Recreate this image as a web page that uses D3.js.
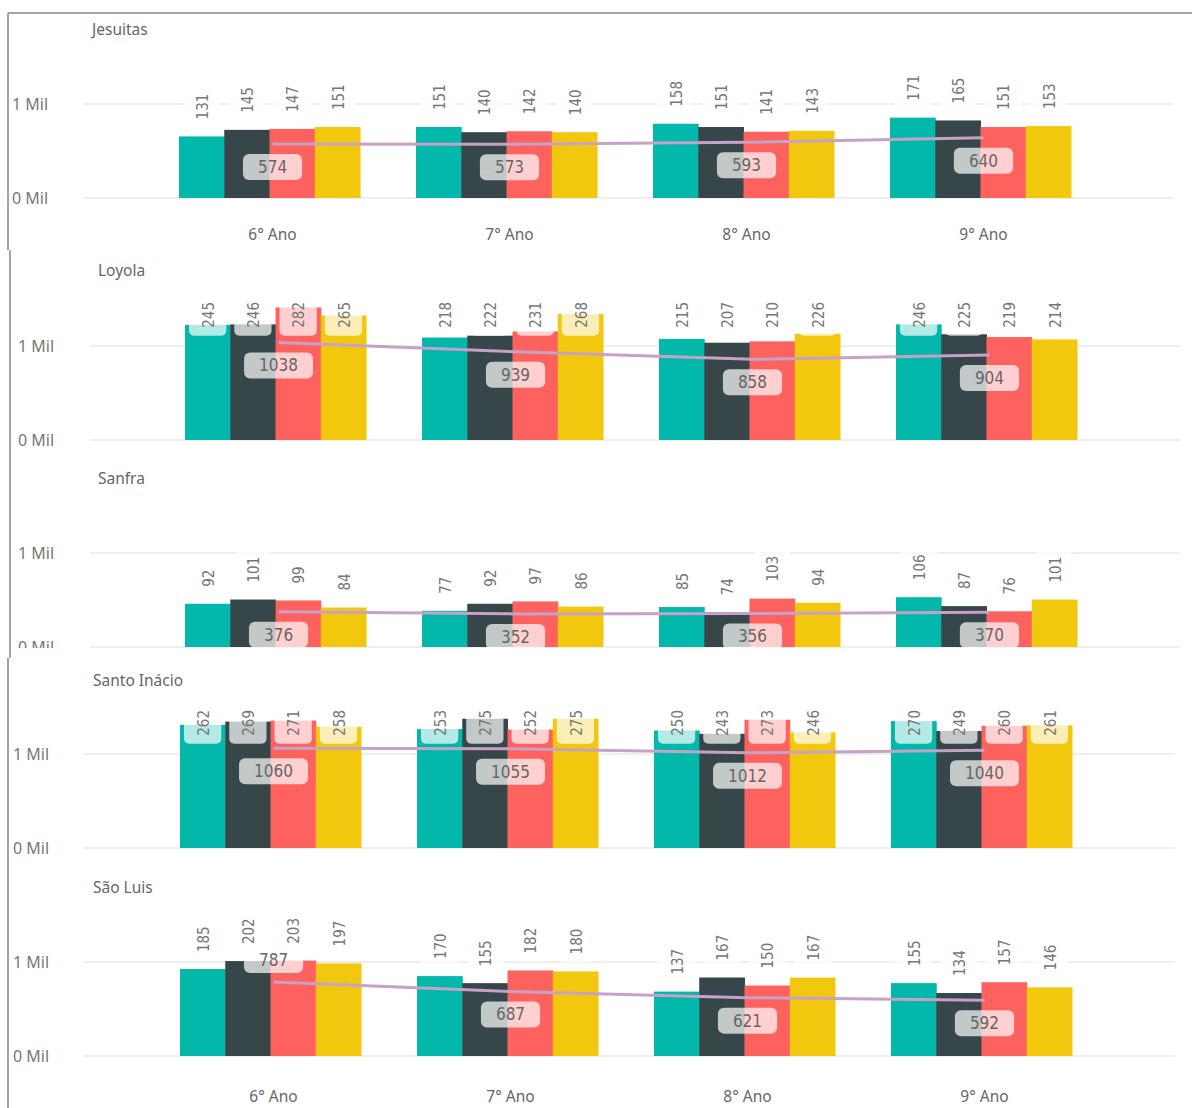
<!DOCTYPE html>
<html lang="pt">
<head>
<meta charset="utf-8">
<title>Alunos por ano</title>
<style>
  body { margin: 0; background: #fff; }
  svg { display: block; font-family: "Segoe UI", "Noto Sans", sans-serif; }
  .frame { stroke: #a3a3a3; stroke-width: 2; }
  .grid { stroke: #e8e8e8; stroke-width: 1.5; }
  .title { fill: #666; font-size: 15.5px; }
  .cat { fill: #666; font-size: 15.5px; }
  .ylab { fill: #777; font-size: 16px; }
  .vlab { font-family: "DejaVu Sans Condensed", sans-serif; fill: #777; font-size: 15px; }
  .tot { font-family: "DejaVu Sans Condensed", sans-serif; fill: #666; font-size: 17px; }
  .lbg { fill: #fff; fill-opacity: 0.7; }
  .line { fill: none; stroke: #c7a1c6; stroke-width: 3; }
</style>
</head>
<body>
<script src="https://d3js.org/d3.v7.min.js"></script>
<script>
// data
var schools = ["Jesuitas", "Loyola", "Sanfra", "Santo Inácio", "São Luis"];
var grades = ["6° Ano", "7° Ano", "8° Ano", "9° Ano"];
var series = ["Série 1", "Série 2", "Série 3", "Série 4"];
var colors = ["#01B8AA", "#374649", "#FD625E", "#F2C80F"];

var jesuitas    = [[131, 145, 147, 151], [151, 140, 142, 140], [158, 151, 141, 143], [171, 165, 151, 153]];
var loyola      = [[245, 246, 282, 265], [218, 222, 231, 268], [215, 207, 210, 226], [246, 225, 219, 214]];
var sanfra      = [[92, 101, 99, 84], [77, 92, 97, 86], [85, 74, 103, 94], [106, 87, 76, 101]];
var santoInacio = [[262, 269, 271, 258], [253, 275, 252, 275], [250, 243, 273, 246], [270, 249, 260, 261]];
var saoLuis     = [[185, 202, 203, 197], [170, 155, 182, 180], [137, 167, 150, 167], [155, 134, 157, 146]];

var jesuitasTot    = [574, 573, 593, 640];
var loyolaTot      = [1038, 939, 858, 904];
var sanfraTot      = [376, 352, 356, 370];
var santoInacioTot = [1060, 1055, 1012, 1040];
var saoLuisTot     = [787, 687, 621, 592];

var yTicks = [0, 1000];
var yTickLabels = ["0 Mil", "1 Mil"];

var values = [jesuitas, loyola, sanfra, santoInacio, saoLuis];
var totals = [jesuitasTot, loyolaTot, sanfraTot, santoInacioTot, saoLuisTot];

// layout of the five stacked panels
var panels = [
  {y0: 0,   y1: 250,  tx: 92, ty: 30,  zero: 198,  grid: [84, 1173], bars: [179, 1071], ylx: 12, catY: 235},
  {y0: 250, y1: 460,  tx: 98, ty: 271, zero: 440,  grid: [90, 1180], bars: [185, 1077], ylx: 18, catY: null},
  {y0: 460, y1: 648,  tx: 98, ty: 479, zero: 647,  grid: [90, 1180], bars: [185, 1077], ylx: 18, catY: null},
  {y0: 658, y1: 870,  tx: 93, ty: 681, zero: 848,  grid: [84, 1175], bars: [180, 1072], ylx: 13, catY: null},
  {y0: 870, y1: 1108, tx: 93, ty: 888, zero: 1056, grid: [84, 1175], bars: [180, 1072], ylx: 13, catY: 1097}
];
var totAbove = {"São Luis|6° Ano": true};

var W = 1192, H = 1108, unit = 94;

var svg = d3.select("body").append("svg")
    .attr("width", W)
    .attr("height", H);
svg.append("rect").attr("width", W).attr("height", H).attr("fill", "#fff");

// frame lines
svg.append("line").attr("class", "frame").attr("x1", 8).attr("x2", W).attr("y1", 13).attr("y2", 13);
svg.append("line").attr("class", "frame").attr("x1", 8).attr("x2", 8).attr("y1", 13).attr("y2", 250);
svg.append("line").attr("class", "frame").attr("x1", 10).attr("x2", 10).attr("y1", 250).attr("y2", 658);
svg.append("line").attr("class", "frame").attr("x1", 8).attr("x2", 8).attr("y1", 658).attr("y2", H);

var defs = svg.append("defs");

panels.forEach(function(p, pi) {
  var name = schools[pi];
  defs.append("clipPath").attr("id", "clip" + pi)
    .append("rect").attr("x", 12).attr("y", p.y0).attr("width", W).attr("height", p.y1 - p.y0);

  var g = svg.append("g").attr("clip-path", "url(#clip" + pi + ")");

  var y = d3.scaleLinear().domain([0, 1000]).range([p.zero, p.zero - unit]);
  var yBar = d3.scaleLinear().domain([0, 200]).range([p.zero, p.zero - unit]);
  var x = d3.scaleBand().domain(grades).range(p.bars).paddingInner(0.236);
  var xs = d3.scaleBand().domain(series).range([0, x.bandwidth()]);
  var plotTop = y(1000) - 44;

  g.append("text").attr("class", "title")
    .attr("x", p.tx).attr("y", p.ty).attr("dy", "0.35em")
    .text(name);

  g.selectAll(".grid").data(yTicks).enter().append("line")
    .attr("class", "grid")
    .attr("x1", p.grid[0]).attr("x2", p.grid[1])
    .attr("y1", function(d) { return y(d); })
    .attr("y2", function(d) { return y(d); });

  g.selectAll(".ylab").data(yTicks).enter().append("text")
    .attr("class", "ylab")
    .attr("x", p.ylx)
    .attr("y", function(d) { return y(d); })
    .attr("dy", "0.35em")
    .text(function(d, i) { return yTickLabels[i]; });

  if (p.catY !== null) {
    g.selectAll(".cat").data(grades).enter().append("text")
      .attr("class", "cat")
      .attr("x", function(d) { return x(d) + x.bandwidth() / 2 + 3; })
      .attr("y", p.catY).attr("dy", "0.35em")
      .attr("text-anchor", "middle")
      .text(function(d) { return d; });
  }

  var cells = [];
  grades.forEach(function(gr, gi) {
    series.forEach(function(s, si) {
      cells.push({grade: gr, s: s, si: si, v: values[pi][gi][si]});
    });
  });

  g.selectAll(".bar").data(cells).enter().append("rect")
    .attr("class", "bar")
    .attr("x", function(d) { return x(d.grade) + xs(d.s); })
    .attr("width", xs.bandwidth() + 0.5)
    .attr("y", function(d) { return yBar(d.v); })
    .attr("height", function(d) { return p.zero - yBar(d.v); })
    .attr("fill", function(d) { return colors[d.si]; });

  // rotated value labels
  var lab = g.selectAll(".vl").data(cells).enter().append("g").attr("class", "vl");
  lab.each(function(d) {
    var el = d3.select(this);
    var cx = x(d.grade) + xs(d.s) + xs.bandwidth() / 2;
    var bg = el.append("rect").attr("class", "lbg");
    var t = el.append("text").attr("class", "vlab")
      .attr("dy", "0.35em")
      .text(d.v);
    var len = t.node().getComputedTextLength();
    var bottom = yBar(d.v) - 17;
    if (bottom - len < plotTop) bottom = plotTop + len;
    t.attr("transform", "translate(" + (cx + 1) + "," + bottom + ") rotate(-90)");
    bg.attr("x", x(d.grade) + xs(d.s) + 4)
      .attr("width", xs.bandwidth() - 8)
      .attr("y", bottom - len - 5)
      .attr("height", len + 13)
      .attr("rx", 5);
  });

  // total line
  var pts = grades.map(function(gr, gi) {
    return {grade: gr, v: totals[pi][gi], x: x(gr) + x.bandwidth() / 2 + 3};
  });
  g.append("path").attr("class", "line")
    .attr("d", d3.line().x(function(d) { return d.x; }).y(function(d) { return y(d.v); })(pts));

  var tl = g.selectAll(".tl").data(pts).enter().append("g");
  tl.each(function(d) {
    var el = d3.select(this);
    var cy = totAbove[name + "|" + d.grade] ? y(d.v) - 22 : y(d.v) + 23;
    var bg = el.append("rect").attr("class", "lbg");
    var t = el.append("text").attr("class", "tot")
      .attr("x", d.x).attr("y", cy).attr("dy", "0.35em")
      .attr("text-anchor", "middle")
      .text(d.v);
    var w = t.node().getComputedTextLength() + 30;
    bg.attr("x", d.x - w / 2).attr("y", cy - 13)
      .attr("width", w).attr("height", 26).attr("rx", 6);
  });
});
</script>
</body>
</html>
